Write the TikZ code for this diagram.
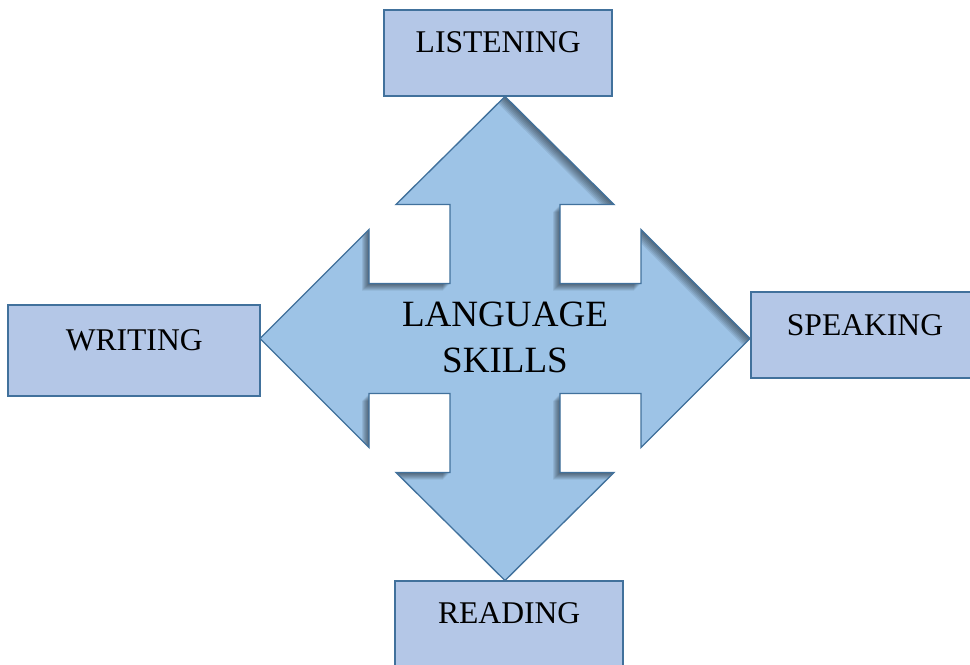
\documentclass[tikz,border=0pt]{standalone}
\usepackage{fontspec}
\setmainfont{Liberation Serif}
\usepackage{tikz}
\usetikzlibrary{positioning}
\usepackage{xcolor}
\definecolor{boxblue}{HTML}{B4C7E7}
\definecolor{crossblue}{HTML}{9DC3E6}
\definecolor{edgeblue}{HTML}{41719C}
\tikzset{every text node part/.style={align=center}}
\tikzstyle{skill} = [draw=edgeblue, fill=boxblue, line width=1.5pt, minimum width=171pt, minimum height=64.5pt, inner sep=0pt, outer sep=0pt, text height=8pt, text depth=8pt, font={\fontsize{23.7}{28}\selectfont}]
\tikzstyle{core} = [inner sep=0pt, font={\fontsize{27.8}{35}\selectfont}]
\newcommand{\crosspath}{(0,-242) -- (109,-134) -- (55,-134) -- (55,-55) -- (136,-55) -- (136,-109) -- (245,0) -- (136,109) -- (136,55) -- (55,55) -- (55,134) -- (109,134) -- (0,242) -- (-109,134) -- (-55,134) -- (-55,55) -- (-136,55) -- (-136,109) -- (-245,0) -- (-136,-109) -- (-136,-55) -- (-55,-55) -- (-55,-134) -- (-109,-134) -- cycle}

\begin{document}
\begin{tikzpicture}[x=0.75pt, y=-0.75pt]
  \useasboundingbox (0,0) rectangle (970,664);
  % four-way arrow with a soft inner shadow
  \begin{scope}[shift={(505,338.5)}]
    \fill[crossblue] \crosspath;
    \begin{scope}
      \clip \crosspath;
      \foreach \d in {1,...,7}
        \fill[black, opacity=0.08, even odd rule, shift={(-\d,\d)}] (-500,-500) rectangle (500,500) \crosspath;
    \end{scope}
    \draw[edgeblue, line width=1pt, line join=miter] \crosspath;
  \end{scope}
  \node[core] (skills) at (505,337.5) {LANGUAGE\\SKILLS};
  \node[skill] (listening) at (498.2,52.8) {LISTENING};
  \node[skill, minimum width=189pt, minimum height=68.25pt] (writing) at (134.2,350.5) {WRITING};
  \node[skill] (speaking) at (865,335.3) {SPEAKING};
  \node[skill] (reading) at (509.2,623.7) {READING};
\end{tikzpicture}
\end{document}
